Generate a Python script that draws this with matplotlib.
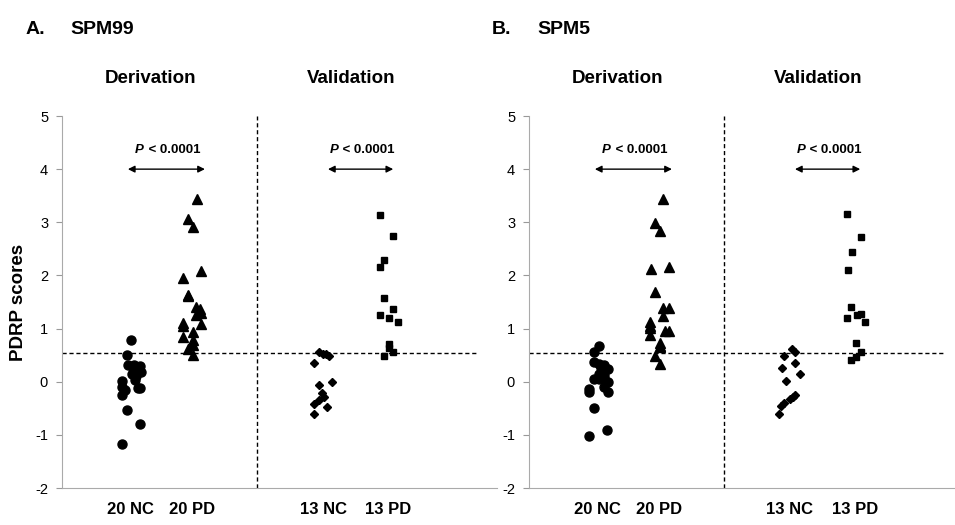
import matplotlib
matplotlib.use('Agg')
import matplotlib.pyplot as plt

plt.rcParams['font.family'] = ['Liberation Sans', 'DejaVu Sans']
plt.rcParams['axes.unicode_minus'] = False

# ---- panel A: SPM99 ----
a_nc_x = [1.11, 1.05, 1.06, 1.16, 1.26, 1.14, 1.21, 1.27, 1.13, 1.19,
          1.17, 0.97, 0.97, 1.22, 1.26, 1.01, 0.97, 1.05, 1.26, 0.97]
a_nc_y = [0.78, 0.50, 0.32, 0.32, 0.30, 0.25, 0.20, 0.18, 0.15, 0.10,
          0.03, 0.02, -0.10, -0.12, -0.11, -0.15, -0.25, -0.53, -0.80, -1.18]
a_pd_x = [2.17, 2.02, 2.10, 2.23, 1.95, 2.03, 2.03, 2.16, 2.22, 2.23,
          2.16, 1.95, 1.95, 2.23, 2.10, 1.95, 2.10, 2.10, 2.03, 2.10]
a_pd_y = [3.44, 3.07, 2.92, 2.09, 1.96, 1.64, 1.61, 1.41, 1.36, 1.29,
          1.25, 1.11, 1.05, 1.09, 0.94, 0.84, 0.78, 0.69, 0.61, 0.50]
a_vnc_x = [4.14, 4.20, 4.25, 4.29, 4.06, 4.14, 4.34, 4.19, 4.22, 4.14, 4.06, 4.27, 4.06]
a_vnc_y = [0.56, 0.53, 0.52, 0.48, 0.35, -0.06, 0.00, -0.21, -0.28, -0.34, -0.42, -0.47, -0.60]
a_vpd_x = [5.12, 5.33, 5.18, 5.12, 5.18, 5.33, 5.12, 5.26, 5.40, 5.26, 5.26, 5.33, 5.18]
a_vpd_y = [3.13, 2.75, 2.29, 2.15, 1.57, 1.37, 1.26, 1.19, 1.12, 0.71, 0.63, 0.55, 0.48]

# ---- panel B: SPM5 ----
b_nc_x = [1.13, 1.05, 1.05, 1.13, 1.21, 1.27, 1.16, 1.05, 1.13, 1.21,
          1.27, 1.21, 0.97, 0.97, 1.27, 1.05, 1.26, 0.97, 1.13, 1.21]
b_nc_y = [0.67, 0.55, 0.37, 0.33, 0.31, 0.23, 0.25, 0.06, 0.06, 0.07,
          -0.01, -0.10, -0.14, -0.19, -0.20, -0.49, -0.90, -1.02, 0.15, 0.12]
b_pd_x = [2.16, 2.03, 2.11, 2.25, 1.96, 2.03, 2.16, 2.25, 2.16, 1.95,
          1.95, 1.95, 2.19, 2.25, 2.11, 2.11, 2.03, 2.11, 1.95, 2.11]
b_pd_y = [3.44, 2.98, 2.84, 2.16, 2.12, 1.69, 1.38, 1.38, 1.24, 1.13,
          1.02, 0.87, 0.96, 0.96, 0.72, 0.65, 0.48, 0.33, 1.05, 0.68]
b_vnc_x = [4.23, 4.28, 4.10, 4.28, 4.07, 4.36, 4.14, 4.28, 4.25, 4.20, 4.10, 4.06, 4.02]
b_vnc_y = [0.62, 0.55, 0.48, 0.36, 0.25, 0.15, 0.02, -0.25, -0.28, -0.33, -0.40, -0.45, -0.60]
b_vpd_x = [5.12, 5.34, 5.20, 5.13, 5.18, 5.12, 5.28, 5.34, 5.41, 5.26, 5.34, 5.26, 5.18]
b_vpd_y = [3.15, 2.72, 2.45, 2.10, 1.40, 1.19, 1.26, 1.27, 1.12, 0.73, 0.55, 0.46, 0.41]

group_pos = [1.1, 2.1, 4.2, 5.25]
group_labels = ['20 NC', '20 PD', '13 NC', '13 PD']
cutoff = 0.54
pval = 'P < 0.0001'

fig = plt.figure(figsize=(9.55, 5.25), dpi=100)
W, H = 955.0, 525.0


def panel(left_px, data, ylabel):
    ax = fig.add_axes([left_px / W, 37 / H, 435 / W, 372 / H])
    (nx, ny), (px, py), (vnx, vny), (vpx, vpy) = data
    ax.plot(nx, ny, 'o', color='black', ms=6.5, ls='none')
    ax.plot(px, py, '^', color='black', ms=6.5, ls='none')
    ax.plot(vnx, vny, 'D', color='black', ms=4.2, ls='none')
    ax.plot(vpx, vpy, 's', color='black', ms=4.5, ls='none')
    ax.plot([0, 6.68], [cutoff, cutoff], color='black', ls=(0, (3, 2)), lw=1)
    ax.axvline(3.14, color='black', ls=(0, (3, 2)), lw=1)
    ax.set_xlim(0, 7)
    ax.set_ylim(-2, 5)
    ax.set_yticks(range(-2, 6))
    ax.set_xticks(group_pos)
    ax.set_xticklabels(group_labels, fontsize=12, fontweight='bold')
    ax.tick_params(axis='x', length=0, pad=10)
    ax.tick_params(axis='y', length=4, color='#999999', labelsize=10.5, pad=6)
    for s in ['top', 'right']:
        ax.spines[s].set_visible(False)
    for s in ['left', 'bottom']:
        ax.spines[s].set_color('#aaaaaa')
    for x0, x1 in [(1.06, 2.30), (4.28, 5.33)]:
        ax.annotate('', xy=(x1, 4.0), xytext=(x0, 4.0),
                    arrowprops=dict(arrowstyle='<|-|>', color='black', lw=1,
                                    mutation_scale=10, shrinkA=0, shrinkB=0))
        xm = (x0 + x1) / 2
        ax.text(xm - 0.36, 4.36, 'P', fontsize=9.5, fontweight='bold',
                style='italic', ha='right', va='center')
        ax.text(xm - 0.34, 4.36, pval[1:], fontsize=9.5, fontweight='bold',
                ha='left', va='center')
    ax.text(1.42, 5.71, 'Derivation', fontsize=13.5, fontweight='bold', ha='center', va='center')
    ax.text(4.65, 5.71, 'Validation', fontsize=13.5, fontweight='bold', ha='center', va='center')
    if ylabel:
        ax.set_ylabel('PDRP scores', fontsize=13.5, fontweight='bold', labelpad=6)
    return ax


panel(62, [(a_nc_x, a_nc_y), (a_pd_x, a_pd_y), (a_vnc_x, a_vnc_y), (a_vpd_x, a_vpd_y)], True)
panel(529, [(b_nc_x, b_nc_y), (b_pd_x, b_pd_y), (b_vnc_x, b_vnc_y), (b_vpd_x, b_vpd_y)], False)

fig.text(26 / W, 1 - 30 / H, 'A.', fontsize=14, fontweight='bold', va='center')
fig.text(70 / W, 1 - 30 / H, 'SPM99', fontsize=14, fontweight='bold', va='center')
fig.text(492 / W, 1 - 30 / H, 'B.', fontsize=14, fontweight='bold', va='center')
fig.text(537 / W, 1 - 30 / H, 'SPM5', fontsize=14, fontweight='bold', va='center')

fig.savefig('out.png', dpi=100)
